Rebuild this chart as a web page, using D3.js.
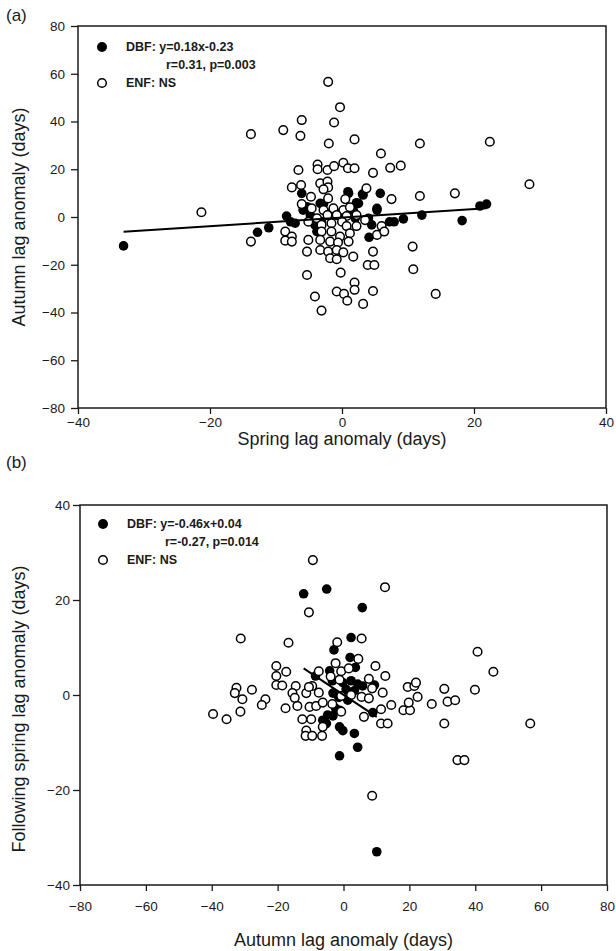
<!DOCTYPE html>
<html>
<head>
<meta charset="utf-8">
<script src="https://cdn.jsdelivr.net/npm/d3@7"></script>
<style>
  body { margin: 0; background: #fff; }
  text { font-family: "Liberation Sans", Arial, sans-serif; fill: #1a1a1a; }
</style>
</head>
<body>
<svg id="chart"></svg>
<script>
const WIDTH = 616;
const HEIGHT = 951;

// panel (a): spring lag anomaly vs autumn lag anomaly
const aXTicks = [-40, -20, 0, 20, 40];
const aYTicks = [-80, -60, -40, -20, 0, 20, 40, 60, 80];
const aLegend = ["DBF: y=0.18x-0.23", "r=0.31, p=0.003", "ENF: NS"];
const aFit = [0.18, -0.23];

const aDbf = [
    [-33.1, -12.1], [-12.8, -6.4], [-11.1, -4.5], [-8.4, 0.4], [-7.8, -2], [-7.1, -2.6], [-6.1, 9.9],
    [-5.9, 2.9], [-5.3, 4.3], [-4.8, 0.8], [-4.1, -3.3], [-3.8, -6.1], [-3.1, -2], [-3.3, 5.7],
    [-2.8, 5.4], [-1.8, 1.5], [-0.3, 1.5], [0.9, 10.6], [1, 9.9], [1.7, 2.9], [2, -0.5], [2.2, 6],
    [2.5, 5.7], [3.1, 9.6], [3.2, 9.2], [4, -0.5], [4.1, -8.5], [4.5, -3.3], [5.3, 3.6], [5.3, 2.9],
    [5.8, 9.9], [7.2, -2], [7.9, -2], [9.3, -0.8], [12.1, 0.8], [18.2, -1.5], [20.9, 4.6], [21.9, 5.4]
];

const aEnf = [
    [-0.3, 46], [-6.1, 40.6], [-1.2, 39.6], [-13.8, 34.7], [-8.9, 36.4], [-6.3, 34], [-2, 30.8],
    [1.9, 32.5], [11.8, 30.8], [5.9, 26.6], [-2.1, 56.6], [22.4, 31.5], [28.4, 13.7], [17.1, 9.9],
    [-21.3, 2], [-6.6, 19.7], [-3.7, 22], [-3.7, 20], [-2.2, 19.7], [-1.2, 21.3], [0.2, 22.7],
    [0.9, 20.4], [1.9, 20.4], [4.7, 18.5], [7.3, 20.6], [8.9, 21.5], [-7.6, 12.4], [-6.2, 13.4],
    [-3.3, 14.1], [-2.2, 14.8], [-2.1, 12.4], [-2.8, 11.6], [3.7, 12], [-4.7, 8.5], [-2.1, 7.8],
    [0.5, 7.5], [7.5, 7.5], [11.8, 8.8], [-6.1, 5.4], [-4.6, 3.6], [-2.8, 2.9], [-1.3, 3.6],
    [0.2, 2.9], [1.2, 4.1], [-3.8, -0.5], [-2.2, 0.8], [-0.8, 0.8], [0.7, 0.4], [2.2, 0.8],
    [3.5, -1.3], [-5.1, -2], [-3.1, -3.3], [-1.6, -2.6], [0, -2], [0.7, -3.8], [2.2, -3.8], [6, -3.8],
    [-8.6, -6.1], [-7.6, -8.2], [-8.6, -9.9], [-7.6, -10.3], [-13.8, -10.3], [-3.1, -6.1],
    [-1.6, -6.1], [1.2, -6.8], [-0.3, -8.2], [5.3, -7.5], [6.4, -6.1], [-5.1, -9.6], [-3.3, -9.6],
    [-1.8, -10.3], [-0.6, -10.7], [1, -10.3], [-3.3, -13.8], [-2.1, -14.5], [-0.8, -13.8],
    [-5.3, -14.5], [0.2, -14.8], [-1.8, -17.3], [-0.8, -17.7], [1.7, -16.6], [4.7, -14.5],
    [10.7, -12.4], [3.9, -20.1], [4.9, -20.1], [10.8, -21.9], [-5.3, -24.3], [-0.2, -23.3],
    [1.9, -27.5], [1.9, -30.5], [-0.8, -31.2], [4.7, -31], [-4.1, -33.3], [0.3, -32.2],
    [0.8, -35.1], [3.2, -36.4], [-3.1, -39.2], [14.2, -32.2]
];

// panel (b): autumn lag anomaly vs following spring lag anomaly
const bXTicks = [-80, -60, -40, -20, 0, 20, 40, 60, 80];
const bYTicks = [-40, -20, 0, 20, 40];
const bLegend = ["DBF: y=-0.46x+0.04", "r=-0.27, p=0.014", "ENF: NS"];
const bFit = [-0.46, 0.04];

const bDbf = [
    [-12.1, 21.3], [-5.1, 22.3], [5.7, 18.4], [2.3, 12.1], [-2.9, 9.5], [2, 7.9], [3.6, 5.8],
    [-4.2, 5.1], [-3.4, 3], [-0.2, 2.6], [2.3, 3], [4.3, 2.3], [5.8, 1.9], [0.8, 1.2], [3.3, 0.9],
    [-3.2, 0.4], [-1.4, -0.5], [1.3, -1.1], [-2.4, -2.8], [-1.2, -3.2], [-4.8, -4.2], [-3.2, -4.4],
    [8.9, -3.7], [9.4, 2.1], [-6.3, -5.3], [-5.2, -6], [-1.2, -6.7], [-0.2, -7.5], [3.3, -8.1],
    [4.3, -11], [-1.2, -12.8], [-8.5, 4], [10.1, -33]
];

const bEnf = [
    [-9.3, 28.4], [-10.5, 17.4], [12.6, 22.7], [-31.2, 11.9], [-16.7, 11], [-1.9, 11.1], [5.5, 11.9],
    [4.5, 7.6], [-2.4, 6.7], [9.7, 6.1], [12.7, 4], [-20.4, 6.1], [-17.4, 4.9], [-20.4, 4],
    [-20.4, 2.1], [-18.6, 2], [-14.5, 1.9], [-7.5, 5], [-0.7, 5], [1.6, 5.6], [-3.9, 3.9],
    [-1.2, 3.2], [7.7, 3.4], [8.7, 1.4], [-32.5, 1.5], [-33, 0.4], [-27.8, 1.1], [-30.7, -0.9],
    [-23.7, -0.9], [-24.8, -2.1], [-15.5, 0.4], [-14.8, -0.6], [-14, -2.3], [-17.6, -2.8],
    [-11.3, 0.4], [-9.5, 1.9], [-7.5, 0.5], [-10.3, -2.5], [-8.3, -2.3], [-6.3, -1.6], [-3.4, -1.9],
    [-0.7, -0.2], [2.3, 0], [-0.7, -3.5], [5.5, -0.4], [7.7, -0.7], [11.9, 0.5], [14.5, -2.1],
    [11.4, -3], [6.2, -4.6], [11.4, -6], [13.4, -6], [-12.5, -5.1], [-9.8, -5.1], [-11.3, -7.5],
    [-11.5, -8.6], [-9.5, -8.6], [-6.5, -8.6], [-6.3, -6.7], [-10.5, 1.7], [18.2, -3.2],
    [20.2, -3.2], [19.8, -1.6], [19.5, 1.7], [21.5, 1.9], [22, 2.6], [22.5, -0.4], [26.8, -1.9],
    [30.6, 1.3], [31.6, -1.4], [33.9, -1.1], [30.6, -6], [34.6, -13.7], [36.7, -13.7],
    [-39.6, -4], [-35.5, -5.1], [-31.3, -3.5], [40.7, 9.1], [45.5, 4.9], [39.9, 1.1], [56.7, -6],
    [8.7, -21.2]
];

const PANELS = [
    {
        tag: "(a)", tagY: 15,
        left: 78, right: 606, top: 26, bottom: 408,
        xTicks: aXTicks, yTicks: aYTicks,
        xLabel: "Spring lag anomaly (days)", xLabelY: 439,
        yLabel: "Autumn lag anomaly (days)", yLabelMid: 217,
        yPad: 6, xPad: 3,
        dbf: aDbf, enf: aEnf, fit: aFit, legend: aLegend,
        legX: 24, legY: 21, legIndent: 64
    },
    {
        tag: "(b)", tagY: 462,
        left: 80, right: 607, top: 505, bottom: 885,
        xTicks: bXTicks, yTicks: bYTicks,
        xLabel: "Autumn lag anomaly (days)", xLabelY: 940,
        yLabel: "Following spring lag anomaly (days)", yLabelMid: 709,
        yPad: 3, xPad: 10,
        dbf: bDbf, enf: bEnf, fit: bFit, legend: bLegend,
        legX: 23, legY: 19, legIndent: 62
    }
];

const svg = d3.select("#chart")
    .attr("width", WIDTH)
    .attr("height", HEIGHT);

function styleAxis(a) {
    a.select(".domain").remove();
    a.selectAll("line").attr("stroke", "#1a1a1a").attr("stroke-width", 1.3);
    a.selectAll("text")
        .attr("font-size", 13.5)
        .attr("fill", "#1a1a1a")
        .style("font-family", "'Liberation Sans', Arial, sans-serif");
}

function drawPanel(p) {
    const w = p.right - p.left;
    const h = p.bottom - p.top;
    const x = d3.scaleLinear()
        .domain(d3.extent(p.xTicks))
        .range([0, w]);
    const y = d3.scaleLinear()
        .domain(d3.extent(p.yTicks))
        .range([h, 0]);

    const g = svg.append("g").attr("transform", `translate(${p.left},${p.top})`);

    g.append("g")
        .attr("transform", `translate(0,${h})`)
        .call(d3.axisBottom(x).tickValues(p.xTicks).tickSize(6).tickPadding(p.xPad).tickSizeOuter(0))
        .call(styleAxis);

    g.append("g")
        .call(d3.axisLeft(y).tickValues(p.yTicks).tickSize(7).tickPadding(p.yPad).tickSizeOuter(0))
        .call(styleAxis);

    g.append("rect")
        .attr("width", w)
        .attr("height", h)
        .attr("fill", "none")
        .attr("stroke", "#1a1a1a")
        .attr("stroke-width", 1.5);

    // DBF points
    g.append("g").selectAll("circle")
        .data(p.dbf)
        .join("circle")
        .attr("cx", d => x(d[0]))
        .attr("cy", d => y(d[1]))
        .attr("r", 4.8)
        .attr("fill", "#000");

    // ENF points
    g.append("g").selectAll("circle")
        .data(p.enf)
        .join("circle")
        .attr("cx", d => x(d[0]))
        .attr("cy", d => y(d[1]))
        .attr("r", 4.3)
        .attr("fill", "#fff")
        .attr("stroke", "#000")
        .attr("stroke-width", 1.5);

    // DBF regression line over the data range
    const xr = d3.extent(p.dbf, d => d[0]);
    g.append("line")
        .attr("x1", x(xr[0])).attr("y1", y(p.fit[0] * xr[0] + p.fit[1]))
        .attr("x2", x(xr[1])).attr("y2", y(p.fit[0] * xr[1] + p.fit[1]))
        .attr("stroke", "#000")
        .attr("stroke-width", 2);

    // legend
    const lg = g.append("g").attr("transform", `translate(${p.legX},${p.legY})`);
    lg.append("circle").attr("r", 5).attr("fill", "#000");
    lg.append("circle").attr("cy", 36).attr("r", 4.3)
        .attr("fill", "#fff").attr("stroke", "#000").attr("stroke-width", 1.5);
    lg.selectAll("text")
        .data(p.legend)
        .join("text")
        .attr("x", (d, i) => i === 1 ? p.legIndent : 24)
        .attr("y", (d, i) => i * 18)
        .attr("dy", "0.35em")
        .attr("font-size", 12.5)
        .attr("font-weight", "bold")
        .text(d => d);

    // titles
    svg.append("text")
        .attr("x", p.left + w / 2)
        .attr("y", p.xLabelY)
        .attr("text-anchor", "middle")
        .attr("dy", "0.35em")
        .attr("font-size", 18)
        .text(p.xLabel);

    svg.append("text")
        .attr("transform", `translate(19,${p.yLabelMid}) rotate(-90)`)
        .attr("text-anchor", "middle")
        .attr("dy", "0.35em")
        .attr("font-size", 18)
        .text(p.yLabel);

    svg.append("text")
        .attr("x", 6)
        .attr("y", p.tagY)
        .attr("dy", "0.35em")
        .attr("font-size", 17)
        .text(p.tag);
}

PANELS.forEach(drawPanel);
</script>
</body>
</html>
